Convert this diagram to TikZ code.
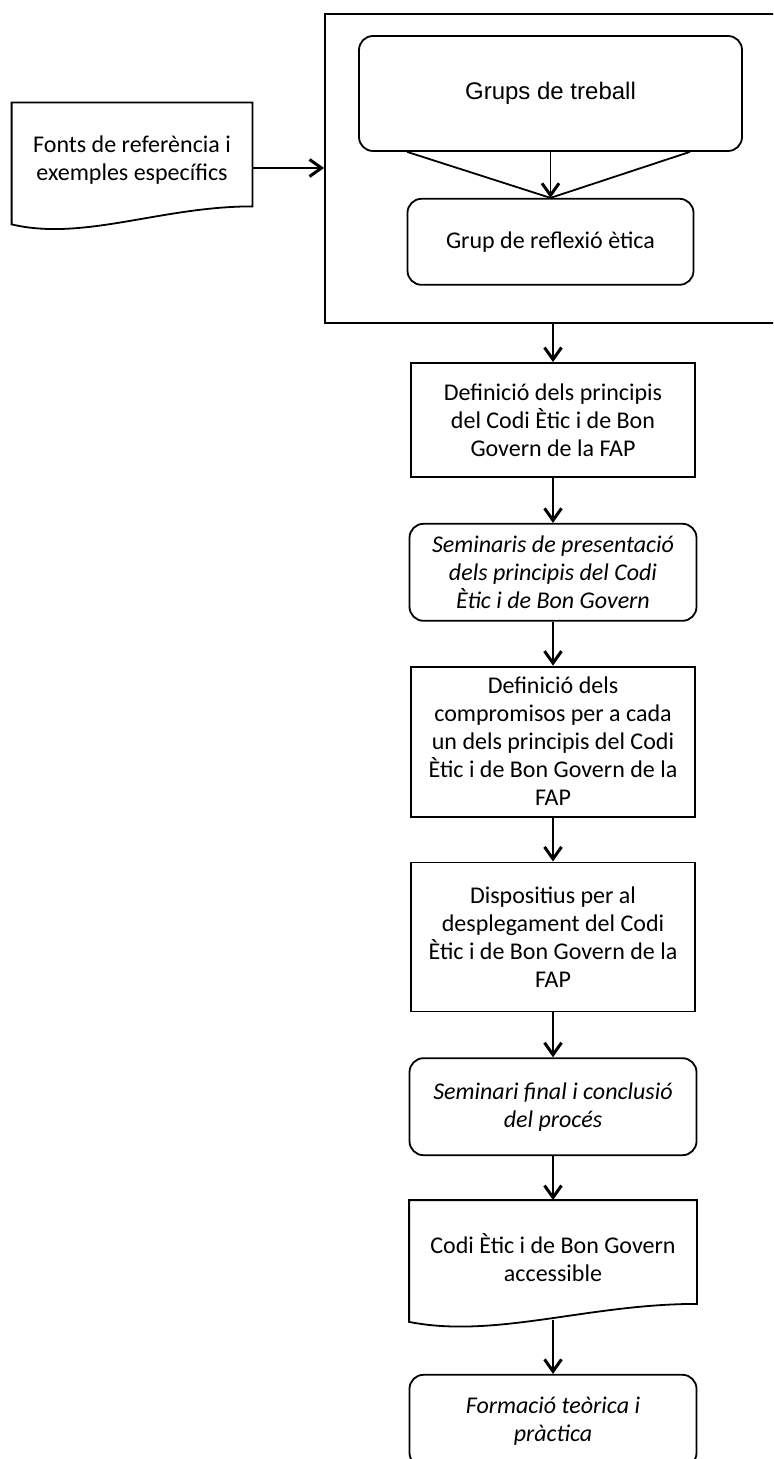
\documentclass[tikz,border=0pt]{standalone}
\usepackage{fontspec}
\setmainfont{Carlito}
\newfontfamily\arialfont{Liberation Sans}
\usepackage{tikz}
\usetikzlibrary{arrows.meta,positioning,calc}

\newcommand{\docshape}[1]{%
    \draw[line width=0.9pt] (#1.north west) -- (#1.north east) -- ([yshift=5.5pt]#1.south east)
        .. controls ($(#1.south west)!0.62!(#1.south east)+(0,5.5pt)$) and ($(#1.south west)!0.3!(#1.south east)+(0,-12pt)$)
        .. ([yshift=-3.5pt]#1.south west) -- cycle;}

\begin{document}
\begin{tikzpicture}[x=0.5pt, y=-0.5pt,
    txt/.style={align=center, inner sep=2pt, font=\fontsize{12}{14}\selectfont},
    box/.style={txt, draw, line width=0.9pt, minimum width=142pt},
    rbox/.style={box, rounded corners=7pt, minimum width=143.5pt, font=\fontsize{12}{14}\selectfont\itshape},
    doc/.style={txt, minimum height=57pt},
    arr/.style={-{Straight Barb[length=6pt,width=8.5pt,line width=1.5pt]}, line width=0.9pt}]
    \useasboundingbox (0,0) rectangle (773,1459);
    \clip (0,0) rectangle (773,1459);

    \node[draw, line width=0.9pt, minimum width=262.5pt, minimum height=154.5pt] (grupsframe) at (587.5,168.5) {};
    \node[box, rounded corners=7pt, minimum width=191.5pt, minimum height=57.5pt, font=\arialfont\fontsize{12}{14}\selectfont] (grups) at (550.5,93.5) {Grups de treball};
    \node[box, rounded corners=7pt, minimum width=143pt, minimum height=43pt, below=23pt of grups] (reflexio) {Grup de reflexió ètica};
    \node[doc, minimum width=120pt] (fonts) at (132,160) {Fonts de referència i\\exemples específics};
    \docshape{fonts}

    \node[box, minimum height=57pt] (principis) at (553,420) {Definició dels principis\\del Codi Ètic i de Bon\\Govern de la FAP};
    \node[rbox, minimum height=48.5pt, below=22.5pt of principis] (seminaris) {Seminaris de presentació\\dels principis del Codi\\Ètic i de Bon Govern};
    \node[box, minimum height=75pt, below=22pt of seminaris] (compromisos) {Definició dels\\compromisos per a cada\\un dels principis del Codi\\Ètic i de Bon Govern de la\\FAP};
    \node[box, minimum height=74.5pt, below=22pt of compromisos] (dispositius) {Dispositius per al\\desplegament del Codi\\Ètic i de Bon Govern de la\\FAP};
    \node[rbox, minimum height=48.5pt, below=22.5pt of dispositius] (final) {Seminari final i conclusió\\del procés};
    \node[doc, minimum width=143.5pt, below=22pt of final] (accessible) {Codi Ètic i de Bon Govern\\accessible};
    \docshape{accessible}
    \node[rbox, minimum height=46pt, below=29.5pt of accessible] (formacio) {Formació teòrica i\\pràctica};

    \draw[arr] ([yshift=-4pt]fonts.east) -- ([yshift=-4pt]fonts.east -| grupsframe.west);
    \draw[line width=0.9pt] ([xshift=24.5pt]grups.south west) -- (reflexio.north);
    \draw[line width=0.9pt] ([xshift=-26.5pt]grups.south east) -- (reflexio.north);
    \draw[arr] (grups) -- (reflexio);
    \draw[arr] (grupsframe.south -| principis.north) -- (principis.north);
    \draw[arr] (principis) -- (seminaris);
    \draw[arr] (seminaris) -- (compromisos);
    \draw[arr] (compromisos) -- (dispositius);
    \draw[arr] (dispositius) -- (final);
    \draw[arr] (final) -- (accessible);
    \draw[arr] ([yshift=-2.5pt]accessible.south) -- (formacio.north);
\end{tikzpicture}
\end{document}
